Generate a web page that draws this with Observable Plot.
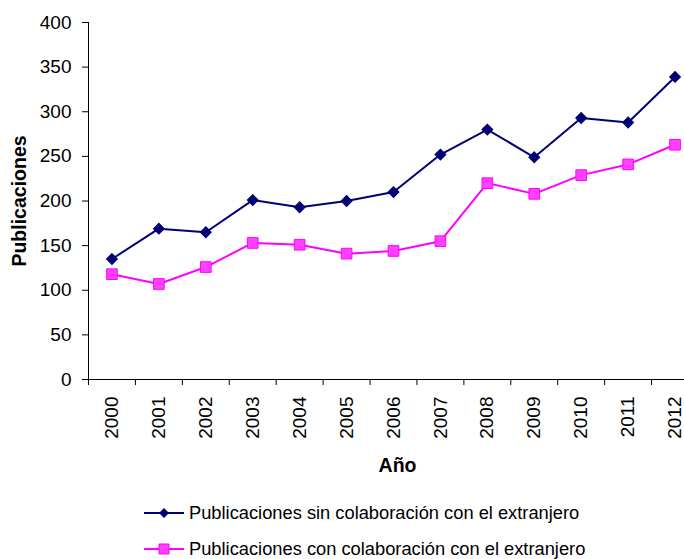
<!DOCTYPE html>
<html>
<head>
<meta charset="utf-8">
<script src="https://cdn.jsdelivr.net/npm/d3@7"></script>
<script src="https://cdn.jsdelivr.net/npm/@observablehq/plot@0.6"></script>
<style>
  html, body { margin: 0; padding: 0; background: #fff; }
  body { width: 684px; height: 559px; overflow: hidden; font-family: "Liberation Sans", Arial, sans-serif; }
  #wrap { position: relative; width: 684px; height: 559px; }
  .leg { position: absolute; left: 144px; display: flex; align-items: center; font-size: 18.3px; line-height: 1; color: #000; white-space: nowrap; }
  .leg svg { display: block; margin-right: 5px; }
</style>
</head>
<body>
<div id="wrap"></div>
<script>
const years = [2000, 2001, 2002, 2003, 2004, 2005, 2006, 2007, 2008, 2009, 2010, 2011, 2012];
const sinColab = [135, 169, 165, 201, 193, 200, 210, 252, 280, 249, 293, 288, 339];
const conColab = [118, 107, 126, 153, 151, 141, 144, 155, 220, 208, 229, 241, 263];
const yTicks = [0, 50, 100, 150, 200, 250, 300, 350, 400];
const seriesNames = ["Publicaciones sin colaboración con el extranjero", "Publicaciones con colaboración con el extranjero"];
const navy = "#000073";
const magenta = "#ff00ff";
const pinkFill = "#ff40ff";

const dataSin = years.map((y, i) => ({year: y, value: sinColab[i]}));
const dataCon = years.map((y, i) => ({year: y, value: conColab[i]}));
const bounds = [years[0] - 0.5, ...years.map(y => y + 0.5)];

const chart = Plot.plot({
  width: 684,
  height: 490,
  marginTop: 22,
  marginBottom: 111,
  marginLeft: 88,
  marginRight: 0,
  style: {fontFamily: "Liberation Sans, Arial, sans-serif", fontSize: "19px", color: "#000", background: "#fff"},
  x: {type: "linear", domain: [bounds[0], bounds[bounds.length - 1]], range: [88, 698]},
  y: {domain: [0, 400], range: [379, 22]},
  marks: [
    Plot.axisY({ticks: yTicks, tickSize: 6, tickPadding: 11, label: null, fontSize: 19, tickFormat: d => d}),
    Plot.axisX({ticks: bounds, tickSize: 6, tickFormat: () => "", label: null}),
    Plot.axisX({ticks: years, tickSize: 0, tickRotate: -90, tickPadding: 17, tickFormat: d => String(d), label: null, fontSize: 19}),
    Plot.ruleY([0], {stroke: "#000", strokeWidth: 1}),
    Plot.ruleX([bounds[0]], {stroke: "#000", strokeWidth: 1}),
    Plot.line(dataSin, {x: "year", y: "value", stroke: navy, strokeWidth: 2}),
    Plot.dot(dataSin, {x: "year", y: "value", symbol: "diamond2", r: 4.6, fill: navy, stroke: navy}),
    Plot.line(dataCon, {x: "year", y: "value", stroke: magenta, strokeWidth: 2}),
    Plot.dot(dataCon, {x: "year", y: "value", symbol: "square", r: 6, fill: pinkFill, stroke: magenta, strokeWidth: 1}),
    Plot.text(["Publicaciones"], {frameAnchor: "left", textAnchor: "middle", rotate: -90, dx: -69, fontWeight: "bold", fontSize: 19.5}),
    Plot.text(["Año"], {frameAnchor: "bottom", dx: 11, dy: 92, fontWeight: "bold", fontSize: 19.5})
  ]
});

const wrap = document.getElementById("wrap");
wrap.appendChild(chart);

function legendRow(name, color, kind, top) {
  const row = document.createElement("div");
  row.className = "leg";
  row.style.top = top + "px";
  const ns = "http://www.w3.org/2000/svg";
  const s = document.createElementNS(ns, "svg");
  s.setAttribute("width", 40); s.setAttribute("height", 14);
  const ln = document.createElementNS(ns, "line");
  ln.setAttribute("x1", 0); ln.setAttribute("x2", 40); ln.setAttribute("y1", 7); ln.setAttribute("y2", 7);
  ln.setAttribute("stroke", color); ln.setAttribute("stroke-width", 2);
  s.appendChild(ln);
  const m = document.createElementNS(ns, "path");
  if (kind === "diamond") {
    m.setAttribute("d", "M20,2L25,7L20,12L15,7Z");
    m.setAttribute("fill", color);
  } else {
    m.setAttribute("d", "M15,2H25V12H15Z");
    m.setAttribute("fill", pinkFill);
    m.setAttribute("stroke", color);
  }
  s.appendChild(m);
  row.appendChild(s);
  const t = document.createElement("span");
  t.textContent = name;
  row.appendChild(t);
  wrap.appendChild(row);
}
legendRow(seriesNames[0], navy, "diamond", 504);
legendRow(seriesNames[1], magenta, "square", 540);
</script>
</body>
</html>
